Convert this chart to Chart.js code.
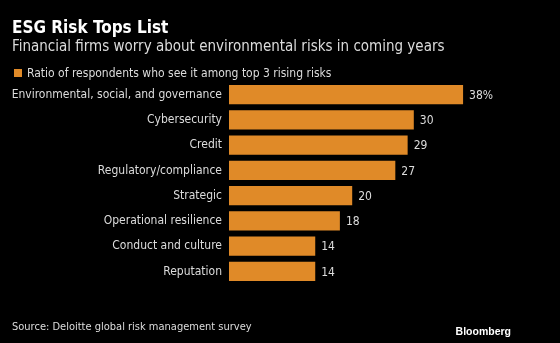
<!DOCTYPE html>
<html>
<head>
<meta charset="utf-8">
<script src="https://cdn.jsdelivr.net/npm/chart.js@4"></script>
<style>
  html, body { margin: 0; padding: 0; background: #000; }
  #wrap { width: 560px; height: 343px; position: relative; }
</style>
</head>
<body>
<div id="wrap"><canvas id="chart"></canvas></div>
<script>
// data
const categories = [
	"Environmental, social, and governance",
	"Cybersecurity",
	"Credit",
	"Regulatory/compliance",
	"Strategic",
	"Operational resilience",
	"Conduct and culture",
	"Reputation"
];
const values = [38, 30, 29, 27, 20, 18, 14, 14];
const seriesLabel = "Ratio of respondents who see it among top 3 rising risks";
const titleText = "ESG Risk Tops List";
const subtitleText = "Financial firms worry about environmental risks in coming years";
const sourceText = "Source: Deloitte global risk management survey";

const ORANGE = "#E08A28";
const TEXT = "#dcdcdc";
const FONT = "'DejaVu Sans Condensed', 'DejaVu Sans', sans-serif";

// draws headings, legend, value labels and footer
const textPlugin = {
	id: "textPlugin",
	afterDraw(chart) {
		const ctx = chart.ctx;
		ctx.save();
		ctx.textBaseline = "alphabetic";
		ctx.textAlign = "left";

		ctx.fillStyle = "#ffffff";
		ctx.font = "bold 17px " + FONT;
		ctx.fillText(titleText, 12, 33);

		ctx.fillStyle = TEXT;
		ctx.font = "15px " + FONT;
		ctx.fillText(subtitleText, 12, 51);

		// legend
		ctx.fillStyle = ORANGE;
		ctx.fillRect(14, 69, 8, 8);
		ctx.fillStyle = TEXT;
		ctx.font = "12px " + FONT;
		ctx.fillText(seriesLabel, 27, 77);

		// value labels
		const meta = chart.getDatasetMeta(0);
		ctx.textBaseline = "middle";
		ctx.font = "12px " + FONT;
		meta.data.forEach((bar, i) => {
			let txt = String(values[i]);
			if (i === 0) txt += "%";
			ctx.fillText(txt, bar.x + 6, bar.y + 1);
		});

		// footer
		ctx.textBaseline = "alphabetic";
		ctx.font = "11px " + FONT;
		ctx.fillText(sourceText, 12, 330);

		ctx.textAlign = "right";
		ctx.fillStyle = "#ffffff";
		ctx.font = "bold 10.5px 'Liberation Sans', Arial, sans-serif";
		ctx.fillText("Bloomberg", 511, 335);
		ctx.restore();
	}
};

new Chart(document.getElementById("chart"), {
	type: "bar",
	data: {
		labels: categories,
		datasets: [{
			label: seriesLabel,
			data: values,
			backgroundColor: ORANGE,
			borderWidth: 0,
			barPercentage: 0.76,
			categoryPercentage: 1.0
		}]
	},
	options: {
		indexAxis: "y",
		responsive: true,
		maintainAspectRatio: false,
		animation: false,
		layout: { padding: { left: 0, right: 23, top: 82, bottom: 59 } },
		plugins: {
			legend: { display: false },
			title: { display: false },
			tooltip: { enabled: false }
		},
		scales: {
			x: {
				display: false,
				min: 0,
				max: 50
			},
			y: {
				afterFit(scale) { scale.width = 229; },
				grid: { display: false, tickLength: 0 },
				border: { display: false },
				ticks: {
					color: TEXT,
					padding: 7,
					font: { family: FONT, size: 12 }
				}
			}
		}
	},
	plugins: [textPlugin]
});
</script>
</body>
</html>
